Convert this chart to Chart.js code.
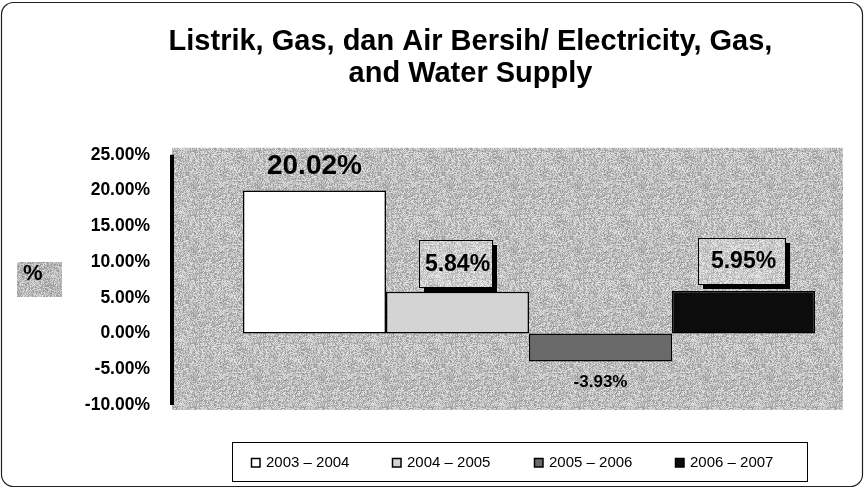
<!DOCTYPE html>
<html>
<head>
<meta charset="utf-8">
<script src="https://cdn.jsdelivr.net/npm/chart.js@4.4.0/dist/chart.umd.min.js"></script>
<style>
  html, body { margin: 0; padding: 0; background: #fff; }
  #wrap { width: 865px; height: 489px; }
</style>
</head>
<body>
<div id="wrap"><canvas id="chart" width="865" height="489"></canvas></div>
<script>
// data
const periods = ['2003 – 2004', '2004 – 2005', '2005 – 2006', '2006 – 2007'];
const growth = [20.02, 5.84, -3.93, 5.95];
const yMin = -10, yMax = 25, yStep = 5;
const titleLines = ['Listrik, Gas, dan Air Bersih/ Electricity, Gas,', 'and Water Supply'];

const fills = ['#ffffff', '#d4d4d4', '#6a6a6a', '#0c0c0c'];
const FONT = 'Arial, "Liberation Sans", sans-serif';

// how each value label looks: above/below the bar, with or without a box
const labelStyle = [
  { size: 28, where: 'above', box: false, dy: 25, dx: 0 },
  { size: 23, where: 'above', box: true, w: 73, h: 47, dy: 5, dx: -2 },
  { size: 17, where: 'below', box: false, dy: 20, dx: 0 },
  { size: 23, where: 'above', box: true, w: 87, h: 46, dy: 7, dx: -2 }
];

// grainy grey like the scanned plot area
function grain(base, spread) {
  const c = document.createElement('canvas');
  c.width = c.height = 64;
  const g = c.getContext('2d');
  const img = g.createImageData(64, 64);
  for (let i = 0; i < 64 * 64; i++) {
    let h = (i * 2654435761) >>> 0;
    h = ((h ^ (h >>> 13)) * 1274126177) >>> 0;
    h = (h ^ (h >>> 16)) >>> 0;
    const v = base + ((h & 255) / 255 - 0.5) * spread;
    img.data[i * 4] = img.data[i * 4 + 1] = img.data[i * 4 + 2] = v;
    img.data[i * 4 + 3] = 255;
  }
  g.putImageData(img, 0, 0);
  return g.createPattern(c, 'repeat');
}

const decor = {
  id: 'decor',
  afterLayout(chart) {
    // the title sits a bit right of the page centre
    if (chart.titleBlock) {
      chart.titleBlock.left += 8;
      chart.titleBlock.right += 8;
    }
  },
  beforeDraw(chart) {
    const ctx = chart.ctx;
    const a = chart.chartArea;
    const y = chart.scales.y;
    ctx.save();
    ctx.fillStyle = '#fff';
    ctx.fillRect(0, 0, chart.width, chart.height);
    // outer rounded frame
    ctx.strokeStyle = '#222';
    ctx.lineWidth = 1.2;
    ctx.beginPath();
    ctx.roundRect(1.5, 2.5, chart.width - 4, chart.height - 5, 12);
    ctx.stroke();
    // plot background, starting at the axis line
    const axisX = a.left - 43;
    ctx.fillStyle = grain(190, 80);
    ctx.fillRect(axisX, a.top - 7, a.right - axisX, a.bottom - a.top + 12);
    // thick axis line
    ctx.fillStyle = '#000';
    ctx.fillRect(axisX - 2, y.getPixelForValue(yMax), 4, y.getPixelForValue(yMin) - y.getPixelForValue(yMax));
    // "%" axis title
    ctx.fillStyle = grain(184, 75);
    ctx.fillRect(17, 262, 45, 35);
    ctx.fillStyle = '#000';
    ctx.font = 'bold 22px ' + FONT;
    ctx.textBaseline = 'middle';
    ctx.fillText('%', 23, 274);
    ctx.restore();
  },
  afterDatasetsDraw(chart) {
    const ctx = chart.ctx;
    ctx.save();
    ctx.textAlign = 'center';
    ctx.textBaseline = 'middle';
    chart.data.datasets.forEach((ds, i) => {
      const bar = chart.getDatasetMeta(i).data[0];
      const s = labelStyle[i];
      const text = growth[i].toFixed(2) + '%';
      const cx = bar.x + s.dx;
      let cy;
      if (s.where === 'above') cy = bar.y - s.dy - (s.box ? s.h / 2 : 0);
      else cy = bar.y + s.dy;
      if (s.box) {
        const bx = Math.round(cx - s.w / 2), by = Math.round(cy - s.h / 2);
        ctx.fillStyle = '#000';
        ctx.fillRect(bx + 5, by + 5, s.w, s.h);
        ctx.fillStyle = grain(204, 70);
        ctx.fillRect(bx, by, s.w, s.h);
        ctx.strokeStyle = '#000';
        ctx.lineWidth = 1;
        ctx.strokeRect(bx + 0.5, by + 0.5, s.w, s.h);
      }
      ctx.fillStyle = '#000';
      ctx.font = 'bold ' + s.size + 'px ' + FONT;
      ctx.fillText(text, cx + (s.box ? 2 : 0), cy + 1);
    });
    ctx.restore();
  },
  afterDraw(chart) {
    // legend in a plain box under the plot
    const ctx = chart.ctx;
    const x0 = 232, top = 442, h = 39;
    ctx.save();
    ctx.strokeStyle = '#000';
    ctx.lineWidth = 1;
    ctx.strokeRect(x0 + 0.5, top + 0.5, 575, h);
    ctx.font = '15px ' + FONT;
    ctx.textBaseline = 'middle';
    chart.data.datasets.forEach((ds, i) => {
      const mx = Math.round(x0 + 19 + i * 141.3);
      const my = top + 21;
      ctx.fillStyle = ds.backgroundColor;
      ctx.fillRect(mx, my - 5, 9, 9);
      ctx.strokeStyle = '#000';
      ctx.lineWidth = 1.5;
      ctx.strokeRect(mx + 0.5, my - 4.5, 8.5, 8.5);
      ctx.fillStyle = '#000';
      ctx.fillText(ds.label, mx + 15, my);
    });
    ctx.restore();
  }
};

const datasets = periods.map((p, i) => ({
  label: p,
  data: [growth[i]],
  backgroundColor: fills[i],
  borderColor: '#000',
  borderWidth: 1.5,
  borderSkipped: false,
  categoryPercentage: 0.911,
  barPercentage: 1
}));

new Chart(document.getElementById('chart'), {
  type: 'bar',
  data: { labels: [''], datasets },
  plugins: [decor],
  options: {
    responsive: false,
    animation: false,
    layout: { padding: { left: 82, right: 22, top: 0, bottom: 84 } },
    plugins: {
      title: {
        display: true,
        text: titleLines,
        color: '#000',
        font: { family: FONT, size: 29, weight: 'bold', lineHeight: 1.1 },
        padding: { top: 26, bottom: 65 }
      },
      legend: { display: false },
      tooltip: { enabled: false }
    },
    scales: {
      x: { display: false },
      y: {
        min: yMin,
        max: yMax,
        afterFit: scale => { scale.width = 133; },
        ticks: {
          stepSize: yStep,
          color: '#000',
          padding: 65,
          font: { family: FONT, size: 17.5, weight: 'bold' },
          callback: v => v.toFixed(2) + '%'
        },
        grid: { display: false, drawTicks: false },
        border: { display: false }
      }
    }
  }
});
</script>
</body>
</html>
